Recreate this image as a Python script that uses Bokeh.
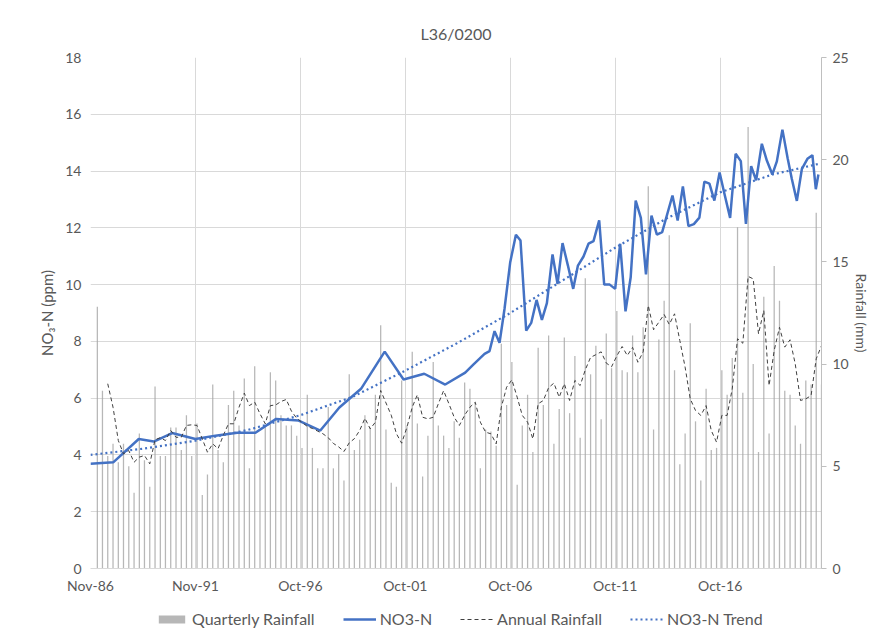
import pandas as pd
from bokeh.plotting import figure
from bokeh.layouts import column
from bokeh.models import (Range1d, LinearAxis, FixedTicker, DatetimeTickFormatter,
                          Legend, LegendItem)
from bokeh.embed import file_html
from bokeh.resources import INLINE

# ---------------- data ----------------
title_text = "L36/0200"

no3_dates = [
    "1986-11-01", "1987-12-01", "1989-02-18", "1989-11-06", "1990-09-22", "1991-11-01",
    "1992-10-14", "1993-10-27", "1994-09-10", "1995-09-05", "1996-10-01", "1997-10-13",
    "1998-09-09", "1999-09-21", "2000-11-06", "2001-09-30", "2002-09-25", "2003-09-25",
    "2004-09-07", "2005-01-30", "2005-08-09", "2005-11-04", "2006-01-30", "2006-04-27",
    "2006-07-23", "2006-10-30", "2007-02-06", "2007-04-27", "2007-08-04", "2007-10-30",
    "2008-01-31", "2008-05-03", "2008-07-29", "2008-11-04", "2009-01-30", "2009-04-27",
    "2009-07-30", "2009-10-30", "2010-01-20", "2010-04-27", "2010-07-23", "2010-10-18",
    "2011-01-25", "2011-04-22", "2011-07-27", "2011-10-30", "2012-01-25", "2012-04-27",
    "2012-07-26", "2012-10-21", "2013-01-19", "2013-04-18", "2013-07-23", "2013-10-25",
    "2014-01-25", "2014-07-23", "2014-10-21", "2015-01-20", "2015-04-27", "2015-07-30",
    "2015-11-03", "2016-01-29", "2016-04-26", "2016-07-21", "2016-10-20", "2017-01-12",
    "2017-04-21", "2017-07-26", "2017-10-24", "2018-01-21", "2018-04-22", "2018-07-18",
    "2018-10-25", "2019-01-20", "2019-04-26", "2019-07-13", "2019-10-18", "2020-01-17",
    "2020-03-30", "2020-06-25", "2020-09-21", "2020-12-26", "2021-03-23", "2021-05-21",
    "2021-07-05",
]
no3_values = [
    3.69, 3.74, 4.56, 4.47, 4.77, 4.56, 4.68, 4.78, 4.78, 5.27, 5.21, 4.86,
    5.67, 6.33, 7.64, 6.66, 6.86, 6.48, 6.90, 7.19, 7.56, 7.66, 8.36, 7.95,
    9.15, 10.79, 11.76, 11.55, 8.38, 8.65, 9.46, 8.76, 9.35, 11.06, 10.03, 11.46,
    10.67, 9.85, 10.67, 10.99, 11.44, 11.53, 12.26, 10.00, 10.00, 9.85, 11.44, 9.06,
    10.26, 12.96, 12.35, 10.36, 12.43, 11.76, 11.85, 13.14, 12.26, 13.46, 12.06, 12.13,
    12.36, 13.63, 13.56, 12.96, 13.95, 13.20, 12.35, 14.61, 14.35, 12.14, 14.17, 13.67,
    14.96, 14.37, 13.88, 14.34, 15.46, 14.45, 13.72, 12.95, 14.08, 14.43, 14.56, 13.36,
    13.88,
]

# NO3-N trend line
trend_dates = [
    "1986-11-01", "1989-05-01", "1991-11-01", "1994-05-01", "1996-10-31", "1999-05-01",
    "2001-10-31", "2004-05-01", "2006-10-31", "2009-05-01", "2011-10-31", "2014-05-01",
    "2016-10-30", "2019-05-01", "2021-07-05",
]
trend_values = [
    4.00, 4.22, 4.50, 4.88, 5.40, 6.05, 6.97, 7.95, 9.00, 10.15, 11.30, 12.35,
    13.25, 13.88, 14.25,
]

first_quarter_start = "1987-02-01"   # quarters ending Feb / May / Aug / Nov
rain_quarterly = [
    12.8, 8.7, 5.5, 6.1, 5.2, 6.1, 5.0, 3.7, 6.6, 5.3, 4.0, 8.9, 5.5, 5.5, 6.9, 6.9,
    5.8, 7.5, 5.5, 7.1, 3.6, 4.6, 9.0, 5.8, 5.2, 8.0, 8.7, 7.0, 9.3, 4.9, 9.9, 5.8,
    7.0, 9.6, 9.2, 7.5, 7.0, 7.0, 6.5, 5.9, 8.5, 5.9, 4.9, 4.9, 7.9, 4.9, 5.6, 4.3,
    9.5, 5.8, 6.3, 7.5, 6.9, 8.5, 11.9, 6.8, 4.2, 4.0, 9.2, 7.0, 10.6, 7.1, 4.5, 6.5,
    10.1, 7.0, 6.5, 5.9, 7.2, 6.4, 9.1, 8.8, 8.1, 4.9, 6.8, 6.7, 6.0, 11.0, 8.0, 10.1,
    4.1, 7.0, 8.5, 5.7, 10.8, 8.0, 11.4, 6.1, 7.8, 11.3, 7.6, 10.4, 6.4, 14.2, 9.5, 10.9,
    7.3, 11.5, 9.8, 12.6, 9.7, 9.6, 11.4, 9.6, 11.8, 18.7, 6.8, 11.2, 13.1, 16.3, 9.7, 5.1,
    6.6, 12.0, 7.2, 4.3, 8.8, 5.8, 5.9, 9.7, 8.5, 10.3, 16.7, 8.6, 21.6, 10.0, 5.7, 13.3,
    6.6, 14.8, 13.1, 8.7, 8.5, 7.0, 6.1, 9.2, 9.0, 17.4, 9.0,
]
# annual rainfall: one value per quarter, starting with the third quarter
rain_annual = [
    9.04, 7.89, 6.26, 5.61, 5.77, 5.20, 5.45, 5.53, 5.12, 6.30, 6.40, 6.26, 6.75, 6.42,
    6.42, 7.00, 7.03, 7.00, 6.34, 5.69, 6.10, 5.86, 6.51, 7.08, 7.08, 7.89, 8.58, 7.97,
    8.14, 7.57, 7.08, 7.97, 8.00, 8.17, 8.27, 7.70, 7.35, 7.15, 6.95, 6.85, 6.72, 6.59,
    6.40, 6.12, 5.95, 5.72, 6.15, 6.35, 6.75, 7.35, 6.83, 7.16, 8.71, 8.10, 7.50, 6.60,
    6.13, 6.91, 7.89, 8.50, 7.40, 7.32, 7.40, 8.06, 8.70, 8.06, 7.40, 7.00, 7.50, 7.89,
    8.14, 7.16, 6.67, 6.59, 6.10, 7.89, 8.87, 9.23, 8.38, 7.49, 7.16, 6.34, 8.06, 8.22,
    8.85, 9.07, 8.38, 9.04, 8.22, 9.20, 8.95, 9.72, 10.33, 10.46, 10.60, 10.05, 9.87, 10.40,
    10.86, 10.42, 10.82, 10.09, 10.60, 12.87, 11.68, 12.05, 12.43, 11.94, 12.46, 11.15, 9.85, 8.30,
    7.73, 7.49, 7.97, 6.75, 6.18, 7.49, 7.49, 8.79, 11.24, 11.02, 14.29, 14.17, 11.48, 12.62,
    8.95, 10.67, 11.80, 10.83, 11.19, 10.01, 8.22, 8.30, 8.46, 10.26, 10.90,
]

x_tick_dates = ["1986-11-01", "1991-11-01", "1996-10-31", "2001-10-31",
                "2006-10-31", "2011-10-31", "2016-10-30"]
left_ticks = [0, 2, 4, 6, 8, 10, 12, 14, 16, 18]
right_ticks = [0, 5, 10, 15, 20, 25]
legend_labels = ["Quarterly Rainfall", "NO3-N", "Annual Rainfall", "NO3-N Trend"]

# ---------------- derived ----------------
q_dates = pd.date_range(first_quarter_start, periods=len(rain_quarterly), freq="3MS") + pd.Timedelta(days=27)
a_dates = q_dates[len(rain_quarterly) - len(rain_annual):]
n_dates = pd.to_datetime(no3_dates)
t_dates = pd.to_datetime(trend_dates)

FONT = "Lato"
TXT = "#595959"
GRID = "#D9D9D9"
BAR = "#A5A5A5"
BLUE = "#4472C4"
DASH = "#404040"
W = 868
bar_w = pd.Timedelta(days=22).total_seconds() * 1000


def draw_series(fig, rain_range="rain"):
    r1 = fig.vbar(x=q_dates, top=rain_quarterly, width=bar_w, y_range_name=rain_range,
                  fill_color=BAR, line_color=None, fill_alpha=0.8)
    r2 = fig.line(n_dates, no3_values, line_color=BLUE, line_width=2.5)
    r3 = fig.line(a_dates, rain_annual, y_range_name=rain_range, line_color=DASH,
                  line_width=1.0, line_dash="4 3")
    r4 = fig.line(t_dates, trend_values, line_color=BLUE, line_width=2.2, line_dash="2 3")
    return [r1, r2, r3, r4]


x_rng = Range1d(pd.Timestamp(x_tick_dates[0]), q_dates[-1])

p = figure(frame_width=731, frame_height=511, x_axis_type="datetime",
           x_range=x_rng, y_range=Range1d(0, 18),
           output_backend="svg", toolbar_location=None,
           min_border_left=90, min_border_right=W - 90 - 731,
           min_border_top=57, min_border_bottom=40)
p.extra_y_ranges = {"rain": Range1d(0, 25)}
p.outline_line_color = None
p.background_fill_color = "white"

p.title.text = title_text
p.title.align = "center"
p.title.text_font = FONT
p.title.text_font_size = "16px"
p.title.text_font_style = "normal"
p.title.text_color = TXT
p.title.standoff = 29

draw_series(p)

# axes
xa = p.xaxis[0]
xa.ticker = FixedTicker(ticks=[pd.Timestamp(d).value / 1e6 for d in x_tick_dates])
fmt = "%b-%y"
xa.formatter = DatetimeTickFormatter(milliseconds=fmt, seconds=fmt, minsec=fmt, minutes=fmt,
                                     hourmin=fmt, hours=fmt, days=fmt, months=fmt, years=fmt)
xa.axis_line_color = GRID
xa.major_tick_line_color = None
xa.major_tick_out = 0
xa.major_tick_in = 0
xa.minor_tick_line_color = None
xa.minor_tick_out = 0
xa.major_label_standoff = 8
xa.major_label_text_font = FONT
xa.major_label_text_font_size = "14px"
xa.major_label_text_color = TXT

ya = p.yaxis[0]
ya.ticker = FixedTicker(ticks=left_ticks)
ya.axis_line_color = None
ya.major_tick_line_color = None
ya.major_tick_out = 0
ya.major_tick_in = 0
ya.minor_tick_line_color = None
ya.minor_tick_out = 0
ya.major_label_standoff = 9
ya.major_label_text_font = FONT
ya.major_label_text_font_size = "14px"
ya.major_label_text_color = TXT
ya.axis_label = "NO\u2083-N (ppm)"
ya.axis_label_text_font = FONT
ya.axis_label_text_font_size = "15px"
ya.axis_label_text_font_style = "normal"
ya.axis_label_text_color = TXT
ya.axis_label_standoff = 6

ra = LinearAxis(y_range_name="rain", ticker=FixedTicker(ticks=right_ticks),
                axis_label="Rainfall (mm)")
ra.axis_line_color = "#BFBFBF"
ra.major_tick_line_color = "#BFBFBF"
ra.major_tick_out = 5
ra.major_tick_in = 0
ra.minor_tick_line_color = None
ra.minor_tick_out = 0
ra.major_label_standoff = 6
ra.major_label_text_font = FONT
ra.major_label_text_font_size = "14px"
ra.major_label_text_color = TXT
ra.axis_label_text_font = FONT
ra.axis_label_text_font_size = "14px"
ra.axis_label_text_font_style = "normal"
ra.axis_label_text_color = TXT
ra.axis_label_standoff = 1
p.add_layout(ra, "right")

p.xgrid.grid_line_color = GRID
p.ygrid.grid_line_color = GRID
p.xgrid.grid_line_width = 1
p.ygrid.grid_line_width = 1

# ---------------- legend strip (below the chart) ----------------
# same series, with a y window far above their values, so only their legend keys show
lg = figure(width=W, height=28, x_axis_type="datetime", x_range=x_rng,
            y_range=Range1d(100, 101),
            output_backend="svg", toolbar_location=None,
            x_axis_location=None, y_axis_location=None,
            min_border_left=0, min_border_right=0, min_border_top=0, min_border_bottom=0)
lg.extra_y_ranges = {"rain": Range1d(100, 101)}
lg.outline_line_color = None
lg.grid.visible = False
keys = draw_series(lg)

legend = Legend(items=[LegendItem(label=lab, renderers=[r]) for lab, r in zip(legend_labels, keys)],
                orientation="horizontal", location=(65, 8))
legend.border_line_color = None
legend.background_fill_alpha = 0
legend.label_text_font = FONT
legend.label_text_font_size = "16px"
legend.label_text_color = TXT
legend.glyph_width = 33
legend.glyph_height = 10
legend.spacing = 28
legend.padding = 2
legend.margin = 0
legend.label_standoff = 4
lg.add_layout(legend, "center")

open("out.html", "w").write(file_html(column(p, lg), INLINE))
